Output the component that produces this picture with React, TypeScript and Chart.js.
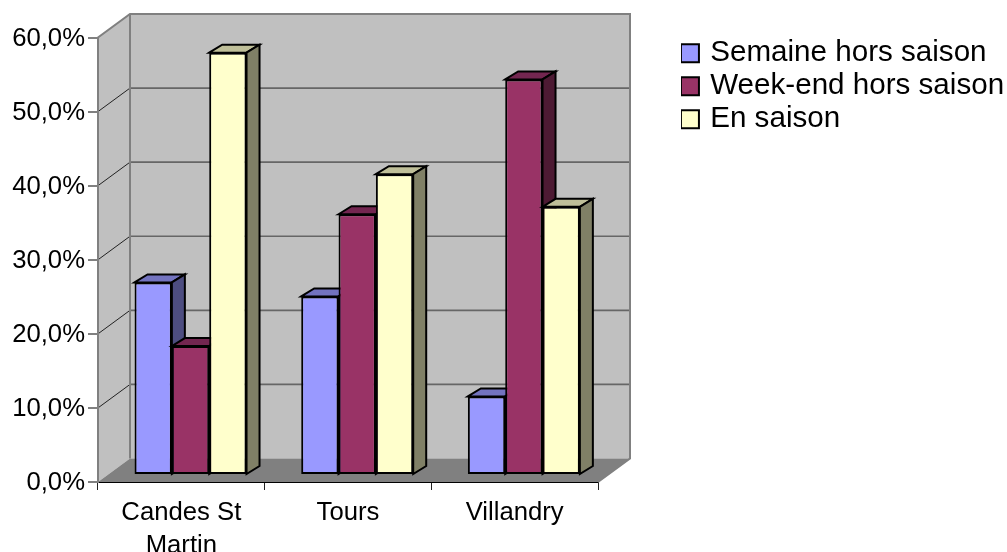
import React, { useEffect, useRef } from "react";
import { Chart, registerables } from "chart.js";

Chart.register(...registerables);

const categories: (string | string[])[] = [["Candes St", "Martin"], "Tours", "Villandry"];
const semaineHorsSaison = [26.0, 24.1, 10.6];
const weekEndHorsSaison = [17.4, 35.2, 53.4];
const enSaison = [57.0, 40.6, 36.2];

const seriesNames = ["Semaine hors saison", "Week-end hors saison", "En saison"];
const frontColors = ["#9999FF", "#993366", "#FFFFCC"];
const topColors = ["#7373BF", "#732650", "#BFBF99"];
const sideColors = ["#4D4D80", "#4D1A33", "#808066"];

const FONT = "'Liberation Sans', Arial, sans-serif";
const WALL = { dx: 32, dy: -23.5 };
const BAR_SHIFT = { dx: 9.2, dy: -7 };
const BAR_DEPTH = { dx: 13, dy: -8 };

function poly(ctx: CanvasRenderingContext2D, pts: number[][], fill: string, stroke?: string, lw = 2) {
  ctx.beginPath();
  pts.forEach((p, i) => (i ? ctx.lineTo(p[0], p[1]) : ctx.moveTo(p[0], p[1])));
  ctx.closePath();
  ctx.fillStyle = fill;
  ctx.fill();
  if (stroke) {
    ctx.strokeStyle = stroke;
    ctx.lineWidth = lw;
    ctx.lineJoin = "miter";
    ctx.stroke();
  }
}

function legendSwatch(color: string) {
  const c = document.createElement("canvas");
  c.width = 22;
  c.height = 22;
  const g = c.getContext("2d") as CanvasRenderingContext2D;
  g.fillStyle = color;
  g.fillRect(1, 1, 20, 20);
  g.strokeStyle = "#000000";
  g.lineWidth = 2;
  g.strokeRect(2, 2, 18, 18);
  return c;
}

const threeD = {
  id: "threeD",
  afterLayout(chart: any) {
    const lg = chart.legend;
    if (lg) {
      const w = lg.width, h = lg.height;
      lg.left = 681; lg.right = 681 + w;
      lg.top = 35; lg.bottom = 35 + h;
    }
  },
  beforeDatasetsDraw(chart: any) {
    const { ctx, chartArea: a, scales } = chart;
    const y = scales.y;
    const { dx, dy } = WALL;
    ctx.save();
    // back wall, side wall, floor
    poly(ctx, [[a.left + dx, a.top + dy], [a.right + dx, a.top + dy], [a.right + dx, a.bottom + dy], [a.left + dx, a.bottom + dy]], "#C0C0C0");
    poly(ctx, [[a.left, a.top], [a.left + dx, a.top + dy], [a.left + dx, a.bottom + dy], [a.left, a.bottom]], "#C0C0C0");
    poly(ctx, [[a.left, a.bottom], [a.left + dx, a.bottom + dy], [a.right + dx, a.bottom + dy], [a.right, a.bottom]], "#808080");
    // grid lines follow the value axis
    (y.ticks as any[]).forEach((t) => {
      const py = y.getPixelForValue(t.value);
      if (t.value > 0 && t.value < 60) {
        ctx.strokeStyle = "#666666";
        ctx.lineWidth = 1.6;
        ctx.beginPath();
        ctx.moveTo(a.left + dx, py + dy);
        ctx.lineTo(a.right + dx, py + dy);
        ctx.stroke();
        ctx.strokeStyle = "#222222";
        ctx.lineWidth = 1;
        ctx.beginPath();
        ctx.moveTo(a.left, py);
        ctx.lineTo(a.left + dx, py + dy);
        ctx.stroke();
      }
    });
    // wall edges
    ctx.strokeStyle = "#808080";
    ctx.lineWidth = 2;
    ctx.beginPath();
    ctx.moveTo(a.left, a.bottom);
    ctx.lineTo(a.left, a.top);
    ctx.lineTo(a.left + dx, a.top + dy);
    ctx.lineTo(a.right + dx, a.top + dy);
    ctx.lineTo(a.right + dx, a.bottom + dy);
    ctx.lineTo(a.right, a.bottom);
    ctx.moveTo(a.left + dx, a.top + dy);
    ctx.lineTo(a.left + dx, a.bottom + dy);
    ctx.stroke();
    ctx.restore();

    // bars, left-most series first, so that each front covers the previous side
    ctx.save();
    ctx.translate(BAR_SHIFT.dx, BAR_SHIFT.dy);
    [0, 1, 2].forEach((i) => {
      const meta = chart.getDatasetMeta(i);
      meta.data.forEach((el: any) => {
        const l = el.x - el.width / 2, r = el.x + el.width / 2;
        const t = el.y, b = el.base;
        const d = BAR_DEPTH;
        poly(ctx, [[l, t], [l + d.dx, t + d.dy], [r + d.dx, t + d.dy], [r, t]], topColors[i], "#000000");
        poly(ctx, [[r, t], [r + d.dx, t + d.dy], [r + d.dx, b + d.dy], [r, b]], sideColors[i], "#000000");
      });
      meta.controller.draw();
    });
    ctx.restore();
  },
  beforeDatasetDraw() {
    return false; // already drawn above, in the order a 3D bar chart needs
  },
};

export default function App() {
  const ref = useRef<HTMLCanvasElement>(null);
  useEffect(() => {
    const allSeries = [semaineHorsSaison, weekEndHorsSaison, enSaison];
    const swatches = frontColors.map(legendSwatch);
    const chart = new Chart(ref.current as HTMLCanvasElement, {
      type: "bar",
      data: {
        labels: categories as any,
        datasets: allSeries.map((data, i) => ({
          label: seriesNames[i],
          data,
          backgroundColor: frontColors[i],
          borderColor: "#000000",
          borderWidth: 2,
          borderSkipped: false,
          barPercentage: 1,
          categoryPercentage: 0.672,
        })),
      },
      options: {
        responsive: false,
        animation: false,
        layout: { padding: { left: 0, top: 37.5, right: 409, bottom: 0 } },
        plugins: {
          title: { display: false },
          tooltip: { enabled: false },
          legend: {
            display: true,
            position: "chartArea" as any,
            align: "start",
            labels: {
              usePointStyle: true,
              pointStyleWidth: 11,
              boxHeight: 20,
              padding: 3.4,
              color: "#000000",
              font: { family: FONT, size: 29.6 },
              generateLabels: (c: any) =>
                c.data.datasets.map((d: any, i: number) => ({
                  text: d.label,
                  fillStyle: frontColors[i],
                  strokeStyle: "#000000",
                  lineWidth: 2,
                  pointStyle: swatches[i],
                  datasetIndex: i,
                })),
            },
          },
        },
        scales: {
          x: {
            afterFit: (s: any) => { s.height = 70; },
            grid: { display: true, offset: true, drawOnChartArea: false, drawTicks: true, tickLength: 8, color: "#222222", lineWidth: 1 },
            border: { display: true, color: "#000000", width: 2 },
            ticks: { color: "#000000", font: { family: FONT, size: 25.7, lineHeight: 1.3 }, autoSkip: false, maxRotation: 0, minRotation: 0, padding: 6 },
          },
          y: {
            min: 0,
            max: 60,
            afterFit: (s: any) => { s.width = 98; },
            grid: { display: true, drawOnChartArea: false, drawTicks: true, tickLength: 10, color: "#808080", lineWidth: 2 },
            border: { display: true, color: "#808080", width: 2 },
            ticks: {
              stepSize: 10,
              color: "#000000",
              padding: 3,
              labelOffset: 1,
              font: { family: FONT, size: 25.7 },
              callback: (v: any) => Number(v).toFixed(1).replace(".", ",") + "%",
            },
          },
        },
      } as any,
      plugins: [threeD as any],
    });
    return () => chart.destroy();
  }, []);
  return (
    <div style={{ position: "fixed", left: 0, top: 0, width: 1007, height: 552, background: "#FFFFFF" }}>
      <canvas ref={ref} width={1007} height={552} style={{ display: "block" }} />
    </div>
  );
}
